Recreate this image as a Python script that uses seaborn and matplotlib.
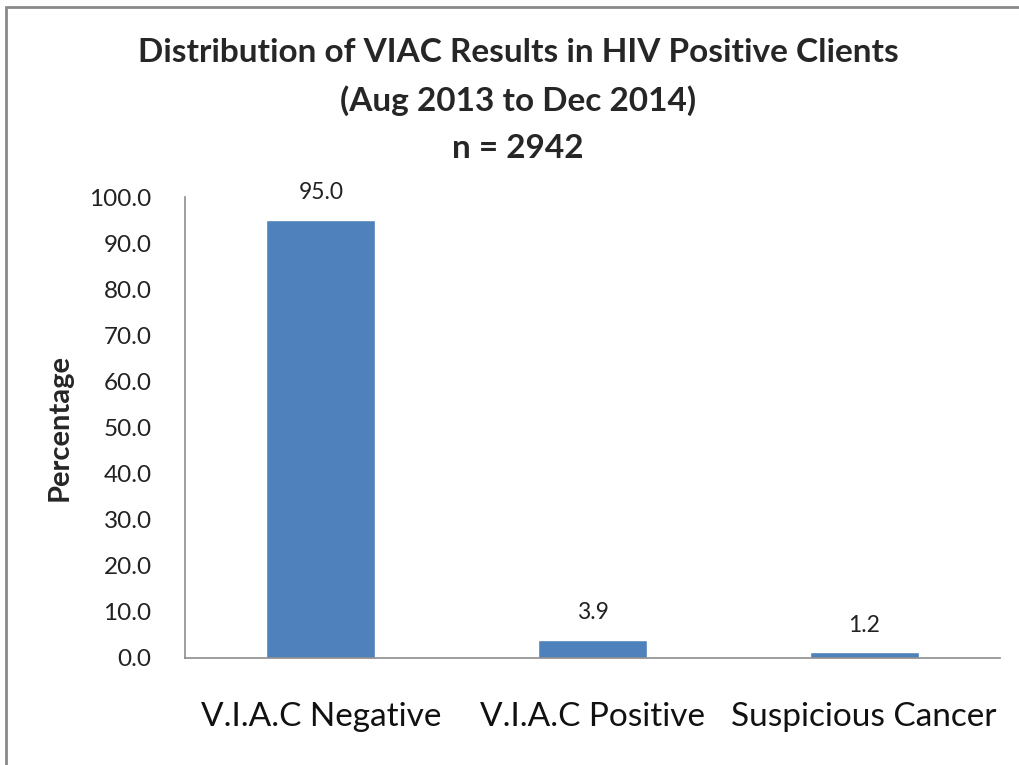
import pandas as pd
import matplotlib as mpl
mpl.use('Agg')
import matplotlib.pyplot as plt
import seaborn as sns
from matplotlib.patches import Rectangle

# data
categories = ['V.I.A.C Negative', 'V.I.A.C Positive', 'Suspicious Cancer']
percentages = [95.0, 3.9, 1.2]
y_ticks = [0, 10, 20, 30, 40, 50, 60, 70, 80, 90, 100]

title = 'Distribution of VIAC Results in HIV Positive Clients\n(Aug 2013 to Dec 2014)\nn = 2942'

sns.set_style('white')
plt.rcParams['font.family'] = ['Lato', 'DejaVu Sans']

df = pd.DataFrame({'cat': categories, 'pct': percentages})

fig = plt.figure(figsize=(10.2, 7.65), dpi=100)
ax = fig.add_axes([185/1020, 107/765, 815/1020, 461/765])

sns.barplot(ax=ax, data=df, x='cat', y='pct', color='#4F81BD', width=0.4, saturation=1)

ax.set_ylim(0, 100)
ax.set_yticks(y_ticks)
ax.set_yticklabels(['{:.1f}'.format(v) for v in y_ticks], fontsize=17.5, color='#222222')
ax.tick_params(axis='x', labelsize=24, colors='#111111', pad=32, length=0)
ax.tick_params(axis='y', length=0, pad=24)
ax.set_xlabel('')
ax.set_ylabel('Percentage', fontsize=21, fontweight='bold', labelpad=12)

for s in ['top', 'right']:
    ax.spines[s].set_visible(False)
for s in ['left', 'bottom']:
    ax.spines[s].set_color('#8c8c8c')
    ax.spines[s].set_linewidth(1.2)

ax.bar_label(ax.containers[0], fmt='%.1f', padding=12, fontsize=16.5, color='#222222')

fig.text(0.508, 0.95, title, ha='center', va='top', fontsize=24, fontweight='bold',
         linespacing=1.72)

# outer frame like the pasted chart border
fig.patches.append(Rectangle((6/1020, -0.05), 1.1, 0.05 + 758/765, transform=fig.transFigure,
                             fill=False, edgecolor='#8a8a8a', linewidth=2))

fig.savefig('out.png', dpi=100)
